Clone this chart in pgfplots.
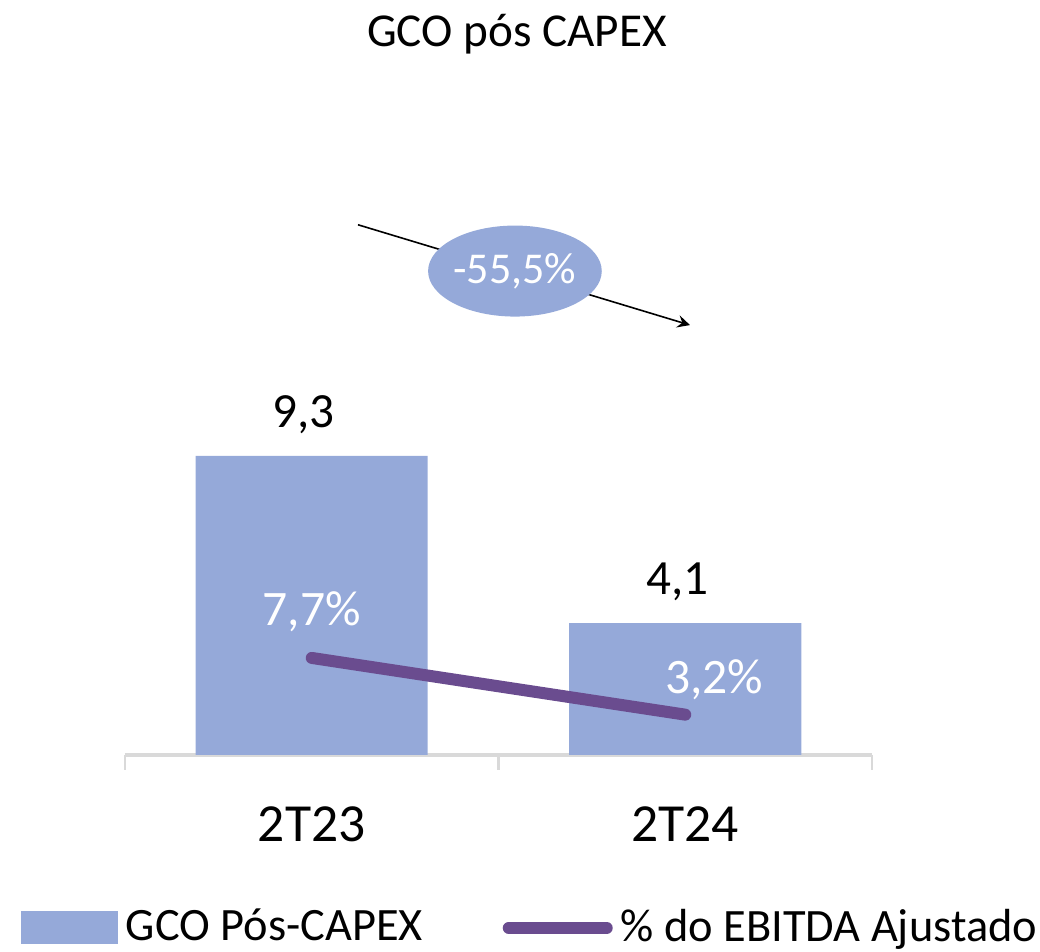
\documentclass[border=0pt]{standalone}
\usepackage{fontspec}
\setmainfont{Carlito}
\usepackage{pgfplots}
\pgfplotsset{compat=1.18}
\usetikzlibrary{shapes.geometric}
\definecolor{barblue}{RGB}{149,169,217}
\definecolor{linepurple}{RGB}{106,76,143}
\definecolor{axisgray}{RGB}{217,217,217}

\begin{document}
\begin{tikzpicture}
\begin{axis}[
    scale only axis, width=186.75pt, height=150pt,
    xmin=-0.5, xmax=1.5, ymin=0, ymax=18.66,
    axis x line*=bottom, axis y line=none,
    x axis line style={axisgray, line width=0.8pt, -},
    xtick={0,1}, xticklabels={2T23,2T24},
    major x tick style={draw=none},
    extra x ticks={-0.5,0.5,1.5}, extra x tick labels={},
    extra x tick style={tick align=outside, major tick length=3.75pt,
        major x tick style={draw=axisgray, line width=0.6pt}},
    ytick=\empty,
    xticklabel style={font=\fontsize{13.4}{16}\selectfont, yshift=-9.5pt},
    /pgf/number format/.cd, use comma, fixed, fixed zerofill, precision=1, assume math mode=true,
    /pgfplots/.cd,
    clip=false,
    legend style={at={(-0.1406,-0.2883)}, anchor=west, draw=none, fill=none,
        font=\fontsize{11.6}{14}\selectfont, inner sep=0pt,
        /tikz/every even column/.append style={column sep=18pt}},
    legend columns=2, legend cell align=left,
]
\addplot[ybar, bar width=58pt, fill=barblue, draw=none,
    nodes near coords,
    nodes near coords style={font=\fontsize{12.3}{15}\selectfont, black, yshift=2pt, xshift=-2pt},
    legend image code/.code={\fill[barblue] (0pt,-4.125pt) rectangle (24.25pt,4.125pt);}]
    coordinates {(0,9.3) (1,4.1)};
\addlegendentry{GCO Pós-CAPEX}
\addlegendimage{legend image code/.code={\draw[linepurple, line width=3pt, line cap=round] (1.5pt,0pt) -- (26pt,0pt);}}
\addlegendentry{\% do EBITDA Ajustado}

% variation annotation
\draw[-stealth, line width=0.4pt, black] (axis cs:0.1238,16.49) -- (axis cs:1.0127,13.37);
\node[ellipse, fill=barblue, minimum width=41.5pt, minimum height=22.75pt, inner sep=0pt,
      text=white, font=\fontsize{11}{13}\selectfont] at (axis cs:0.544,15.05) {-55,5\%};

% title
\node[anchor=base, font=\fontsize{11.8}{14}\selectfont] at (axis cs:0.5495,22.02) {GCO pós CAPEX};
\end{axis}

\begin{axis}[
    scale only axis, width=186.75pt, height=150pt,
    xmin=-0.5, xmax=1.5, ymin=0, ymax=47.6,
    hide axis, clip=false,
]
\addplot[linepurple, line width=3pt, line cap=round, no markers]
    coordinates {(0,7.7) (1,3.2)};
\node[anchor=base, text=white, font=\fontsize{12.4}{15}\selectfont, yshift=8pt] at (axis cs:0,7.7) {7,7\%};
\node[anchor=base, text=white, font=\fontsize{12.4}{15}\selectfont, xshift=7.25pt, yshift=5.25pt] at (axis cs:1,3.2) {3,2\%};
\end{axis}

\pgfresetboundingbox
\path (-31.25pt,-49.25pt) rectangle (228.75pt,188.75pt);
\end{tikzpicture}
\end{document}
